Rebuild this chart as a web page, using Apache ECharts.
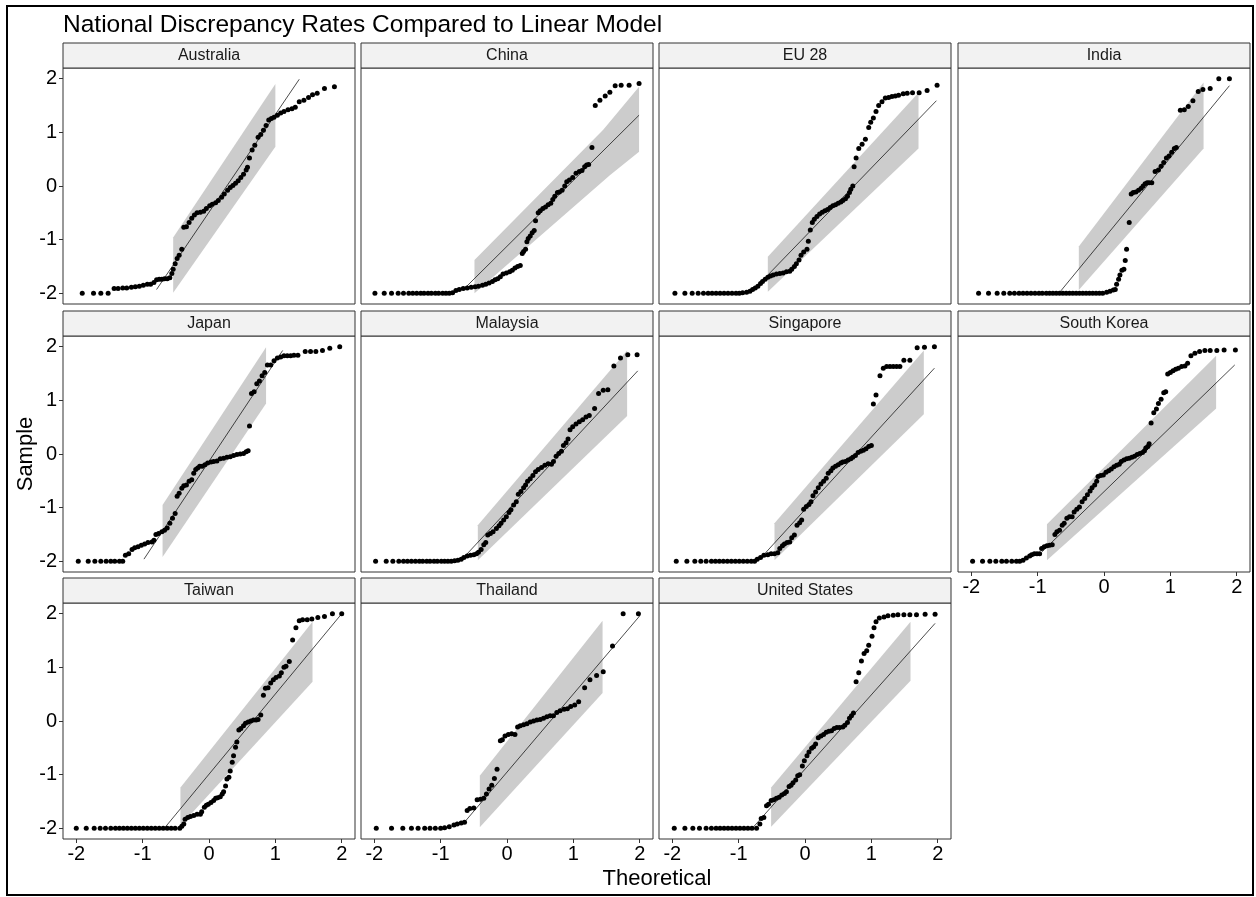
<!DOCTYPE html>
<html>
<head>
<meta charset="utf-8">
<title>National Discrepancy Rates Compared to Linear Model</title>
<script src="https://cdn.jsdelivr.net/npm/echarts@6/dist/echarts.min.js"></script>
<style>
  html, body { margin: 0; padding: 0; background: #fff; }
  #chart { width: 1256px; height: 897px; }
</style>
</head>
<body>
<div id="chart"></div>
<script>
// tick labels and facet names
const xTicks = [-2, -1, 0, 1, 2]
const yTicks = [-2, -1, 0, 1, 2]
const countries = ['Australia', 'China', 'EU 28', 'India', 'Japan', 'Malaysia', 'Singapore', 'South Korea', 'Taiwan', 'Thailand', 'United States']

// sample points [theoretical, sample]
const ausPoints = [[-1.91,-2],[-1.74,-2],[-1.63,-2],[-1.52,-2],[-1.43,-1.91],[-1.37,-1.91],[-1.30,-1.90],[-1.24,-1.90],[-1.17,-1.89],[-1.11,-1.88],[-1.05,-1.87],[-0.99,-1.85],[-0.93,-1.83],[-0.88,-1.83],[-0.83,-1.80],[-0.79,-1.75],[-0.75,-1.74],[-0.71,-1.74],[-0.67,-1.73],[-0.63,-1.73],[-0.59,-1.71],[-0.56,-1.63],[-0.54,-1.55],[-0.51,-1.45],[-0.48,-1.35],[-0.45,-1.29],[-0.41,-1.18],[-0.38,-0.77],[-0.34,-0.76],[-0.30,-0.68],[-0.26,-0.60],[-0.22,-0.54],[-0.18,-0.50],[-0.13,-0.49],[-0.08,-0.47],[-0.04,-0.42],[0.01,-0.37],[0.05,-0.34],[0.10,-0.31],[0.14,-0.27],[0.19,-0.21],[0.23,-0.15],[0.28,-0.08],[0.32,-0.03],[0.36,0.01],[0.40,0.05],[0.44,0.10],[0.48,0.16],[0.52,0.22],[0.56,0.30],[0.58,0.35],[0.61,0.52],[0.65,0.67],[0.69,0.76],[0.74,0.91],[0.78,0.96],[0.82,1.04],[0.86,1.13],[0.90,1.23],[0.94,1.26],[0.98,1.28],[1.03,1.32],[1.08,1.36],[1.13,1.39],[1.19,1.42],[1.25,1.44],[1.30,1.47],[1.36,1.57],[1.43,1.60],[1.50,1.65],[1.56,1.70],[1.63,1.73],[1.74,1.82],[1.89,1.85]]
const chnPoints = [[-1.99,-2],[-1.85,-2],[-1.74,-2],[-1.64,-2],[-1.56,-2],[-1.48,-2],[-1.42,-2],[-1.36,-2],[-1.30,-2],[-1.25,-2],[-1.19,-2],[-1.14,-2],[-1.08,-2],[-1.03,-2],[-0.97,-2],[-0.92,-2],[-0.87,-2],[-0.82,-1.99],[-0.77,-1.95],[-0.72,-1.93],[-0.66,-1.91],[-0.60,-1.90],[-0.54,-1.89],[-0.48,-1.88],[-0.43,-1.87],[-0.37,-1.85],[-0.32,-1.83],[-0.27,-1.81],[-0.22,-1.78],[-0.18,-1.75],[-0.14,-1.73],[-0.10,-1.69],[-0.06,-1.64],[-0.01,-1.62],[0.04,-1.60],[0.08,-1.57],[0.12,-1.53],[0.16,-1.50],[0.20,-1.48],[0.23,-1.26],[0.25,-1.22],[0.28,-1.18],[0.30,-1.04],[0.32,-0.98],[0.35,-0.93],[0.38,-0.87],[0.41,-0.83],[0.43,-0.65],[0.47,-0.50],[0.50,-0.46],[0.54,-0.42],[0.58,-0.39],[0.62,-0.35],[0.66,-0.32],[0.69,-0.25],[0.72,-0.19],[0.76,-0.12],[0.79,-0.11],[0.83,-0.08],[0.87,0.00],[0.90,0.08],[0.94,0.11],[0.99,0.16],[1.04,0.24],[1.09,0.27],[1.13,0.29],[1.17,0.36],[1.20,0.39],[1.23,0.40],[1.28,0.72],[1.33,1.50],[1.40,1.60],[1.48,1.68],[1.55,1.75],[1.63,1.87],[1.72,1.88],[1.84,1.88],[1.99,1.91]]
const euPoints = [[-1.96,-2],[-1.81,-2],[-1.70,-2],[-1.61,-2],[-1.53,-2],[-1.46,-2],[-1.40,-2],[-1.34,-2],[-1.28,-2],[-1.22,-2],[-1.16,-2],[-1.10,-2],[-1.04,-2],[-0.99,-2],[-0.94,-1.99],[-0.88,-1.98],[-0.83,-1.96],[-0.79,-1.93],[-0.75,-1.90],[-0.71,-1.87],[-0.67,-1.82],[-0.64,-1.78],[-0.60,-1.74],[-0.56,-1.70],[-0.52,-1.68],[-0.48,-1.66],[-0.43,-1.64],[-0.38,-1.63],[-0.33,-1.62],[-0.28,-1.60],[-0.23,-1.59],[-0.20,-1.55],[-0.16,-1.50],[-0.13,-1.45],[-0.09,-1.38],[-0.06,-1.29],[-0.02,-1.23],[0.03,-1.18],[0.05,-1.03],[0.08,-0.82],[0.11,-0.68],[0.14,-0.62],[0.18,-0.57],[0.22,-0.52],[0.26,-0.49],[0.30,-0.46],[0.34,-0.44],[0.38,-0.40],[0.42,-0.37],[0.46,-0.35],[0.50,-0.32],[0.54,-0.30],[0.57,-0.27],[0.61,-0.24],[0.64,-0.19],[0.67,-0.12],[0.69,-0.06],[0.72,0.00],[0.74,0.36],[0.77,0.52],[0.81,0.70],[0.86,0.78],[0.91,0.87],[0.96,1.09],[0.99,1.19],[1.03,1.27],[1.07,1.39],[1.11,1.50],[1.16,1.57],[1.21,1.64],[1.26,1.65],[1.31,1.67],[1.36,1.68],[1.41,1.69],[1.48,1.72],[1.54,1.73],[1.62,1.74],[1.72,1.74],[1.84,1.78],[1.99,1.88]]
const indPoints = [[-1.89,-2],[-1.74,-2],[-1.61,-2],[-1.51,-2],[-1.42,-2],[-1.35,-2],[-1.28,-2],[-1.22,-2],[-1.16,-2],[-1.10,-2],[-1.04,-2],[-0.98,-2],[-0.93,-2],[-0.87,-2],[-0.82,-2],[-0.77,-2],[-0.72,-2],[-0.67,-2],[-0.62,-2],[-0.57,-2],[-0.52,-2],[-0.47,-2],[-0.42,-2],[-0.37,-2],[-0.32,-2],[-0.27,-2],[-0.22,-2],[-0.17,-2],[-0.12,-2],[-0.07,-2],[-0.02,-2],[0.04,-1.98],[0.09,-1.96],[0.14,-1.94],[0.17,-1.93],[0.19,-1.83],[0.22,-1.74],[0.24,-1.66],[0.27,-1.57],[0.30,-1.55],[0.32,-1.39],[0.34,-1.18],[0.38,-0.68],[0.41,-0.15],[0.44,-0.12],[0.48,-0.11],[0.52,-0.08],[0.56,-0.04],[0.59,0.00],[0.62,0.04],[0.65,0.06],[0.68,0.06],[0.72,0.06],[0.77,0.27],[0.82,0.30],[0.86,0.37],[0.90,0.44],[0.94,0.52],[0.98,0.56],[1.02,0.63],[1.06,0.70],[1.09,0.72],[1.15,1.41],[1.21,1.42],[1.27,1.48],[1.34,1.59],[1.42,1.76],[1.49,1.80],[1.60,1.82],[1.73,2.00],[1.89,2.00]]
const jpnPoints = [[-1.97,-2],[-1.82,-2],[-1.72,-2],[-1.63,-2],[-1.55,-2],[-1.48,-2],[-1.42,-2],[-1.35,-2],[-1.30,-2],[-1.26,-1.89],[-1.21,-1.86],[-1.16,-1.78],[-1.12,-1.75],[-1.07,-1.73],[-1.02,-1.70],[-0.97,-1.68],[-0.92,-1.65],[-0.86,-1.64],[-0.83,-1.61],[-0.80,-1.50],[-0.76,-1.48],[-0.71,-1.45],[-0.67,-1.42],[-0.63,-1.38],[-0.59,-1.29],[-0.55,-1.20],[-0.51,-1.11],[-0.48,-0.79],[-0.45,-0.73],[-0.41,-0.64],[-0.38,-0.59],[-0.34,-0.58],[-0.30,-0.51],[-0.26,-0.48],[-0.23,-0.36],[-0.20,-0.29],[-0.17,-0.26],[-0.14,-0.23],[-0.10,-0.23],[-0.06,-0.20],[-0.02,-0.17],[0.03,-0.15],[0.07,-0.14],[0.12,-0.13],[0.17,-0.09],[0.22,-0.08],[0.27,-0.06],[0.32,-0.05],[0.37,-0.03],[0.42,-0.01],[0.47,0.00],[0.52,0.01],[0.56,0.04],[0.59,0.06],[0.61,0.52],[0.64,1.13],[0.68,1.16],[0.72,1.31],[0.76,1.36],[0.80,1.46],[0.84,1.52],[0.88,1.66],[0.93,1.66],[0.98,1.74],[1.03,1.79],[1.08,1.81],[1.13,1.83],[1.18,1.83],[1.23,1.83],[1.28,1.84],[1.34,1.84],[1.45,1.91],[1.53,1.91],[1.61,1.91],[1.71,1.93],[1.82,1.97],[1.97,2.00]]
const mysPoints = [[-1.98,-2],[-1.82,-2],[-1.72,-2],[-1.63,-2],[-1.56,-2],[-1.50,-2],[-1.44,-2],[-1.38,-2],[-1.32,-2],[-1.27,-2],[-1.21,-2],[-1.16,-2],[-1.10,-2],[-1.05,-2],[-0.99,-2],[-0.94,-2],[-0.89,-2],[-0.84,-2],[-0.79,-1.99],[-0.74,-1.98],[-0.69,-1.96],[-0.65,-1.93],[-0.60,-1.90],[-0.55,-1.89],[-0.50,-1.88],[-0.46,-1.86],[-0.43,-1.83],[-0.39,-1.78],[-0.35,-1.69],[-0.32,-1.65],[-0.29,-1.51],[-0.25,-1.48],[-0.21,-1.45],[-0.16,-1.39],[-0.12,-1.34],[-0.09,-1.29],[-0.05,-1.23],[-0.01,-1.17],[0.03,-1.09],[0.06,-1.04],[0.10,-0.95],[0.14,-0.89],[0.17,-0.75],[0.21,-0.70],[0.25,-0.63],[0.28,-0.58],[0.31,-0.51],[0.35,-0.46],[0.39,-0.40],[0.43,-0.33],[0.47,-0.29],[0.52,-0.25],[0.57,-0.21],[0.62,-0.18],[0.67,-0.19],[0.70,-0.14],[0.74,-0.04],[0.78,0.01],[0.82,0.05],[0.85,0.16],[0.89,0.21],[0.92,0.28],[0.95,0.45],[0.99,0.51],[1.04,0.56],[1.09,0.60],[1.14,0.64],[1.19,0.69],[1.24,0.72],[1.32,0.85],[1.38,1.13],[1.45,1.19],[1.52,1.20],[1.61,1.64],[1.71,1.79],[1.82,1.85],[1.96,1.85]]
const sgpPoints = [[-1.94,-2],[-1.78,-2],[-1.66,-2],[-1.57,-2],[-1.49,-2],[-1.41,-2],[-1.35,-2],[-1.29,-2],[-1.23,-2],[-1.17,-2],[-1.11,-2],[-1.05,-2],[-0.99,-2],[-0.93,-2],[-0.87,-2],[-0.81,-2],[-0.76,-2],[-0.72,-1.96],[-0.67,-1.93],[-0.62,-1.89],[-0.56,-1.88],[-0.51,-1.86],[-0.46,-1.86],[-0.41,-1.84],[-0.38,-1.76],[-0.34,-1.71],[-0.31,-1.68],[-0.27,-1.65],[-0.23,-1.64],[-0.20,-1.56],[-0.16,-1.51],[-0.12,-1.33],[-0.08,-1.28],[-0.05,-1.23],[-0.02,-1.03],[0.02,-0.98],[0.06,-0.94],[0.09,-0.89],[0.12,-0.78],[0.16,-0.71],[0.20,-0.63],[0.24,-0.56],[0.28,-0.51],[0.32,-0.45],[0.35,-0.36],[0.39,-0.31],[0.42,-0.26],[0.46,-0.23],[0.50,-0.20],[0.54,-0.17],[0.57,-0.15],[0.61,-0.14],[0.65,-0.11],[0.69,-0.09],[0.72,-0.06],[0.76,-0.03],[0.80,0.03],[0.84,0.05],[0.88,0.07],[0.92,0.10],[0.96,0.14],[1.00,0.16],[1.03,0.93],[1.07,1.10],[1.13,1.46],[1.18,1.60],[1.23,1.63],[1.28,1.63],[1.33,1.63],[1.38,1.63],[1.43,1.63],[1.49,1.75],[1.58,1.75],[1.69,1.98],[1.80,1.99],[1.95,2.00]]
const korPoints = [[-1.98,-2],[-1.83,-2],[-1.72,-2],[-1.63,-2],[-1.54,-2],[-1.47,-2],[-1.39,-2],[-1.32,-2],[-1.27,-2],[-1.22,-1.98],[-1.17,-1.94],[-1.12,-1.90],[-1.09,-1.88],[-1.05,-1.86],[-1.01,-1.86],[-0.97,-1.86],[-0.94,-1.76],[-0.90,-1.73],[-0.86,-1.71],[-0.82,-1.70],[-0.78,-1.69],[-0.74,-1.50],[-0.71,-1.45],[-0.67,-1.42],[-0.63,-1.33],[-0.60,-1.29],[-0.56,-1.20],[-0.52,-1.17],[-0.48,-1.17],[-0.45,-1.08],[-0.41,-1.03],[-0.37,-0.99],[-0.33,-0.89],[-0.29,-0.83],[-0.25,-0.76],[-0.21,-0.69],[-0.18,-0.63],[-0.14,-0.58],[-0.11,-0.51],[-0.09,-0.42],[-0.05,-0.40],[-0.01,-0.39],[0.03,-0.34],[0.07,-0.31],[0.11,-0.28],[0.15,-0.24],[0.19,-0.21],[0.23,-0.19],[0.26,-0.14],[0.30,-0.11],[0.34,-0.09],[0.38,-0.08],[0.42,-0.06],[0.46,-0.04],[0.50,-0.01],[0.54,0.01],[0.58,0.03],[0.61,0.06],[0.63,0.11],[0.66,0.14],[0.68,0.19],[0.71,0.58],[0.75,0.77],[0.79,0.84],[0.82,0.94],[0.86,1.02],[0.90,1.14],[0.93,1.16],[0.96,1.49],[1.00,1.52],[1.04,1.55],[1.08,1.58],[1.12,1.60],[1.17,1.63],[1.22,1.64],[1.26,1.69],[1.31,1.83],[1.37,1.88],[1.44,1.91],[1.52,1.93],[1.60,1.93],[1.70,1.93],[1.81,1.94],[1.98,1.94]]
const twnPoints = [[-2.00,-2],[-1.85,-2],[-1.73,-2],[-1.64,-2],[-1.56,-2],[-1.48,-2],[-1.41,-2],[-1.35,-2],[-1.29,-2],[-1.23,-2],[-1.17,-2],[-1.11,-2],[-1.05,-2],[-0.99,-2],[-0.93,-2],[-0.87,-2],[-0.81,-2],[-0.75,-2],[-0.69,-2],[-0.63,-2],[-0.57,-2],[-0.51,-2],[-0.44,-2],[-0.41,-1.96],[-0.38,-1.92],[-0.36,-1.83],[-0.32,-1.80],[-0.28,-1.78],[-0.23,-1.76],[-0.18,-1.74],[-0.13,-1.74],[-0.11,-1.69],[-0.07,-1.61],[-0.04,-1.57],[-0.01,-1.55],[0.03,-1.52],[0.07,-1.48],[0.10,-1.44],[0.13,-1.43],[0.17,-1.41],[0.20,-1.36],[0.22,-1.32],[0.25,-1.21],[0.27,-1.08],[0.30,-1.05],[0.32,-0.93],[0.35,-0.77],[0.37,-0.65],[0.40,-0.49],[0.42,-0.39],[0.45,-0.17],[0.48,-0.14],[0.52,-0.09],[0.55,-0.04],[0.59,-0.02],[0.63,0.00],[0.67,0.02],[0.71,0.02],[0.74,0.03],[0.78,0.11],[0.82,0.48],[0.85,0.61],[0.89,0.62],[0.93,0.71],[0.97,0.77],[1.01,0.81],[1.06,0.84],[1.09,0.90],[1.13,1.00],[1.16,1.02],[1.21,1.11],[1.26,1.51],[1.31,1.74],[1.36,1.87],[1.41,1.89],[1.48,1.89],[1.55,1.90],[1.64,1.93],[1.74,1.95],[1.86,2.00],[2.00,2.00]]
const thaPoints = [[-1.97,-2],[-1.74,-2],[-1.57,-2],[-1.44,-2],[-1.34,-2],[-1.24,-2],[-1.16,-2],[-1.08,-2],[-1.00,-2],[-0.94,-1.99],[-0.87,-1.97],[-0.80,-1.94],[-0.75,-1.92],[-0.69,-1.90],[-0.64,-1.89],[-0.60,-1.67],[-0.56,-1.63],[-0.50,-1.62],[-0.45,-1.47],[-0.40,-1.46],[-0.35,-1.44],[-0.31,-1.36],[-0.27,-1.27],[-0.23,-1.20],[-0.19,-1.07],[-0.15,-0.90],[-0.10,-0.37],[-0.07,-0.35],[-0.03,-0.28],[0.02,-0.25],[0.07,-0.24],[0.12,-0.25],[0.16,-0.11],[0.20,-0.09],[0.25,-0.07],[0.30,-0.05],[0.35,-0.02],[0.40,0.00],[0.45,0.02],[0.50,0.03],[0.55,0.05],[0.60,0.08],[0.65,0.10],[0.70,0.10],[0.75,0.16],[0.80,0.19],[0.86,0.22],[0.91,0.23],[0.96,0.27],[1.02,0.30],[1.08,0.36],[1.17,0.62],[1.25,0.77],[1.35,0.85],[1.45,0.92],[1.59,1.40],[1.75,2.00],[1.98,2.00]]
const usaPoints = [[-1.97,-2],[-1.81,-2],[-1.69,-2],[-1.59,-2],[-1.49,-2],[-1.41,-2],[-1.34,-2],[-1.28,-2],[-1.22,-2],[-1.16,-2],[-1.10,-2],[-1.04,-2],[-0.98,-2],[-0.92,-2],[-0.86,-2],[-0.80,-2],[-0.73,-2],[-0.68,-1.92],[-0.66,-1.82],[-0.62,-1.80],[-0.58,-1.58],[-0.55,-1.55],[-0.51,-1.48],[-0.47,-1.47],[-0.43,-1.44],[-0.39,-1.42],[-0.35,-1.38],[-0.31,-1.35],[-0.28,-1.32],[-0.24,-1.22],[-0.21,-1.20],[-0.18,-1.15],[-0.14,-1.10],[-0.11,-1.02],[-0.08,-1.00],[-0.04,-0.84],[-0.01,-0.74],[0.03,-0.65],[0.06,-0.58],[0.10,-0.51],[0.13,-0.48],[0.16,-0.43],[0.20,-0.31],[0.24,-0.28],[0.28,-0.25],[0.32,-0.21],[0.36,-0.19],[0.40,-0.18],[0.44,-0.14],[0.48,-0.12],[0.52,-0.12],[0.57,-0.11],[0.60,-0.08],[0.64,-0.03],[0.67,0.05],[0.70,0.10],[0.73,0.15],[0.77,0.73],[0.81,0.90],[0.85,1.12],[0.89,1.26],[0.93,1.31],[0.96,1.41],[1.01,1.58],[1.04,1.74],[1.07,1.85],[1.12,1.92],[1.19,1.94],[1.25,1.96],[1.33,1.97],[1.40,1.98],[1.49,1.98],[1.58,1.98],[1.68,1.98],[1.81,1.99],[1.96,1.99]]

// reference line endpoints
const ausLine = [[-0.79,-1.93],[1.36,1.99]]
const chnLine = [[-0.64,-1.91],[1.99,1.32]]
const euLine = [[-0.56,-1.66],[1.98,1.59]]
const indLine = [[-0.66,-1.97],[1.89,1.87]]
const jpnLine = [[-0.98,-1.96],[1.11,1.93]]
const mysLine = [[-0.63,-1.90],[1.97,1.55]]
const sgpLine = [[-0.63,-1.89],[1.95,1.60]]
const korLine = [[-0.94,-1.83],[1.97,1.66]]
const twnLine = [[-0.66,-1.98],[2.00,2.00]]
const thaLine = [[-0.65,-1.90],[2.00,1.96]]
const usaLine = [[-0.78,-1.98],[1.96,1.82]]

// confidence band edges
const ausBandUp = [[-0.54,-0.96],[1.00,1.90]]
const ausBandLo = [[-0.54,-1.99],[1.00,0.73]]
const chnBandUp = [[-0.49,-1.38],[1.45,1.05],[1.99,1.85]]
const chnBandLo = [[-0.49,-2.00],[1.55,0.20],[1.99,0.64]]
const euBandUp = [[-0.56,-1.32],[1.71,1.74]]
const euBandLo = [[-0.56,-1.97],[1.71,0.70]]
const indBandUp = [[-0.38,-1.13],[1.50,1.93]]
const indBandLo = [[-0.38,-1.94],[1.50,0.70]]
const jpnBandUp = [[-0.70,-0.95],[0.86,1.99]]
const jpnBandLo = [[-0.70,-1.92],[0.86,0.94]]
const mysBandUp = [[-0.44,-1.33],[1.81,1.93]]
const mysBandLo = [[-0.44,-1.98],[1.81,0.71]]
const sgpBandUp = [[-0.46,-1.29],[1.79,1.93]]
const sgpBandLo = [[-0.46,-1.98],[1.79,0.74]]
const korBandUp = [[-0.86,-1.31],[1.69,1.83]]
const korBandLo = [[-0.86,-1.98],[1.69,0.85]]
const twnBandUp = [[-0.43,-1.24],[1.56,1.85]]
const twnBandLo = [[-0.43,-1.95],[1.56,0.73]]
const thaBandUp = [[-0.41,-1.02],[1.44,1.87]]
const thaBandLo = [[-0.41,-1.98],[1.44,0.52]]
const usaBandUp = [[-0.51,-1.24],[1.59,1.85]]
const usaBandLo = [[-0.51,-1.97],[1.59,0.75]]

const panels = [
  {pts: ausPoints, line: ausLine, up: ausBandUp, lo: ausBandLo},
  {pts: chnPoints, line: chnLine, up: chnBandUp, lo: chnBandLo},
  {pts: euPoints, line: euLine, up: euBandUp, lo: euBandLo},
  {pts: indPoints, line: indLine, up: indBandUp, lo: indBandLo},
  {pts: jpnPoints, line: jpnLine, up: jpnBandUp, lo: jpnBandLo},
  {pts: mysPoints, line: mysLine, up: mysBandUp, lo: mysBandLo},
  {pts: sgpPoints, line: sgpLine, up: sgpBandUp, lo: sgpBandLo},
  {pts: korPoints, line: korLine, up: korBandUp, lo: korBandLo},
  {pts: twnPoints, line: twnLine, up: twnBandUp, lo: twnBandLo},
  {pts: thaPoints, line: thaLine, up: thaBandUp, lo: thaBandLo},
  {pts: usaPoints, line: usaLine, up: usaBandUp, lo: usaBandLo}
]

const font = 'Liberation Sans, Arial, sans-serif'
const colLeft = [63, 361, 659, 958]
const rowTop = [68, 336, 603]
const panelW = 292
const panelH = 236
const stripH = 25
// panels that show x labels (bottom of each column)
const xLabelPanels = [7, 8, 9, 10]

let grid = [], xAxis = [], yAxis = [], series = [], graphic = []

panels.forEach((p, i) => {
  const r = Math.floor(i / 4), c = i % 4
  const left = colLeft[c], top = rowTop[r]
  const showX = xLabelPanels.includes(i)
  const showY = c === 0
  grid.push({
    left: left, top: top, width: panelW, height: panelH,
    show: true, borderColor: '#333', borderWidth: 1, backgroundColor: '#fff'
  })
  xAxis.push({
    gridIndex: i, type: 'value', min: -2.2, max: 2.2, position: 'bottom',
    axisLine: {show: false, onZero: false}, splitLine: {show: false},
    axisTick: {show: showX, length: 4, customValues: xTicks, lineStyle: {color: '#333'}},
    axisLabel: {show: showX, customValues: xTicks, margin: 5, color: '#000', fontSize: 20, fontFamily: font}
  })
  yAxis.push({
    gridIndex: i, type: 'value', min: -2.2, max: 2.2, position: 'left',
    axisLine: {show: false, onZero: false}, splitLine: {show: false},
    axisTick: {show: showY, length: 4, customValues: yTicks, lineStyle: {color: '#333'}},
    axisLabel: {show: showY, customValues: yTicks, margin: 6, color: '#000', fontSize: 20, fontFamily: font}
  })
  const poly = p.up.concat(p.lo.slice().reverse())
  series.push({
    type: 'custom', xAxisIndex: i, yAxisIndex: i, data: [[0, 0]], silent: true, z: 1, clip: true,
    renderItem: (params, api) => ({
      type: 'polygon',
      shape: {points: poly.map(q => api.coord(q))},
      style: {fill: '#cccccc'}
    })
  })
  series.push({
    type: 'line', xAxisIndex: i, yAxisIndex: i, data: p.line, symbol: 'none', silent: true, z: 2,
    lineStyle: {color: '#000', width: 0.7}
  })
  series.push({
    type: 'scatter', xAxisIndex: i, yAxisIndex: i, data: p.pts, symbolSize: 5, silent: true, z: 3,
    itemStyle: {color: '#000', opacity: 1}
  })
  // facet strip
  graphic.push({
    type: 'rect', z: 10,
    shape: {x: left, y: top - stripH, width: panelW, height: stripH},
    style: {fill: '#f2f2f2', stroke: '#333', lineWidth: 1}
  })
  graphic.push({
    type: 'text', z: 11, x: left + panelW / 2, y: top - stripH / 2,
    style: {text: countries[i], fill: '#1a1a1a', font: '16px ' + font, align: 'center', verticalAlign: 'middle'}
  })
})

graphic.push({
  type: 'text', x: 63, y: 25,
  style: {text: 'National Discrepancy Rates Compared to Linear Model', fill: '#000', font: '24.5px ' + font, verticalAlign: 'middle'}
})
graphic.push({
  type: 'text', x: 657, y: 879,
  style: {text: 'Theoretical', fill: '#000', font: '22px ' + font, align: 'center', verticalAlign: 'middle'}
})
graphic.push({
  type: 'text', x: 26, y: 454, rotation: Math.PI / 2,
  style: {text: 'Sample', fill: '#000', font: '22px ' + font, align: 'center', verticalAlign: 'middle'}
})
graphic.push({
  type: 'rect', z: 20,
  shape: {x: 7, y: 6, width: 1246, height: 889},
  style: {fill: 'none', stroke: '#000', lineWidth: 2}
})

const chart = echarts.init(document.getElementById('chart'))
chart.setOption({
  animation: false,
  backgroundColor: '#fff',
  grid: grid,
  xAxis: xAxis,
  yAxis: yAxis,
  series: series,
  graphic: graphic
})
</script>
</body>
</html>
